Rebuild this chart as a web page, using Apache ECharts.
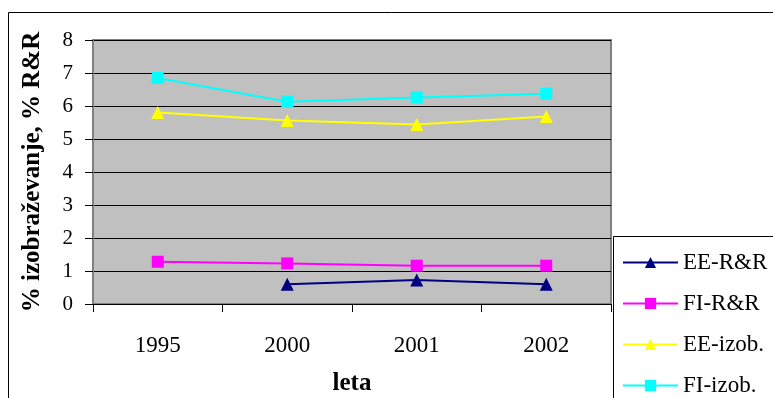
<!DOCTYPE html>
<html>
<head>
<meta charset="utf-8">
<script src="https://cdn.jsdelivr.net/npm/echarts@6/dist/echarts.min.js"></script>
<style>html,body{margin:0;padding:0;background:#fff}#c{width:773px;height:398px}</style>
</head>
<body>
<div id="c"></div>
<script>
const categories = ['1995', '2000', '2001', '2002'];
const seriesNames = ['EE-R&R', 'FI-R&R', 'EE-izob.', 'FI-izob.'];
const eeRR = [null, 0.6, 0.73, 0.6];
const fiRR = [1.28, 1.23, 1.16, 1.16];
const eeIzob = [5.8, 5.56, 5.44, 5.68];
const fiIzob = [6.85, 6.13, 6.26, 6.37];
const yTicks = [0, 1, 2, 3, 4, 5, 6, 7, 8];

const font = 'Liberation Serif, Times New Roman, serif';
const chart = echarts.init(document.getElementById('c'));
function ser(name, data, color, symbol) {
  return {
    name, type: 'line', data, symbol, symbolSize: symbol === 'triangle' ? 13 : 12,
    showSymbol: true, connectNulls: false,
    lineStyle: { color, width: 2 },
    itemStyle: { color, borderWidth: 0 },
    emphasis: { disabled: true }
  };
}
const legendTops = [251, 292, 333, 374];
const legends = seriesNames.map((n, i) => ({
  orient: 'vertical', left: 622, top: legendTops[i],
  padding: 0, itemWidth: 55, itemHeight: 14, borderWidth: 0,
  selectedMode: false,
  textStyle: { fontFamily: font, fontSize: 23, color: '#000' },
  data: [n]
}));
chart.setOption({
  animation: false,
  backgroundColor: '#fff',
  graphic: [{
    type: 'rect', z: -10, silent: true,
    shape: { x: 8.5, y: 12.5, width: 800, height: 420 },
    style: { fill: 'none', stroke: '#000', lineWidth: 1 }
  }, {
    type: 'rect', z: -5, silent: true,
    shape: { x: 613.5, y: 236.5, width: 200, height: 200 },
    style: { fill: '#fff', stroke: '#000', lineWidth: 1 }
  }],
  grid: {
    left: 93, top: 40, right: 162, bottom: 94,
    outerBoundsMode: 'none', containLabel: false,
    show: true, backgroundColor: '#c0c0c0', borderColor: '#808080', borderWidth: 2
  },
  xAxis: {
    type: 'category', data: categories, boundaryGap: true,
    name: 'leta', nameLocation: 'middle', nameGap: 67,
    nameTextStyle: { fontFamily: font, fontSize: 25, fontWeight: 'bold', color: '#000' },
    axisLine: { show: true, lineStyle: { color: '#000', width: 1 } },
    axisTick: { show: true, length: 8, lineStyle: { color: '#000' } },
    axisLabel: { fontFamily: font, fontSize: 23, color: '#000', margin: 30 },
    splitLine: { show: false }
  },
  yAxis: {
    type: 'value', min: yTicks[0], max: yTicks[yTicks.length - 1], interval: 1,
    name: '% izobraževanje, % R&R', nameLocation: 'middle', nameGap: 48, nameRotate: 90,
    nameTextStyle: { fontFamily: font, fontSize: 25, fontWeight: 'bold', color: '#000' },
    axisLine: { show: true, lineStyle: { color: '#808080', width: 2 } },
    axisTick: { show: true, length: 8, lineStyle: { color: '#000' } },
    axisLabel: { fontFamily: font, fontSize: 21, color: '#000', margin: 20 },
    splitLine: { show: true, lineStyle: { color: '#000', width: 1 } }
  },
  legend: legends,
  series: [
    ser(seriesNames[0], eeRR, '#000080', 'triangle'),
    ser(seriesNames[1], fiRR, '#ff00ff', 'rect'),
    ser(seriesNames[2], eeIzob, '#ffff00', 'triangle'),
    ser(seriesNames[3], fiIzob, '#00ffff', 'rect')
  ]
});
</script>
</body>
</html>
